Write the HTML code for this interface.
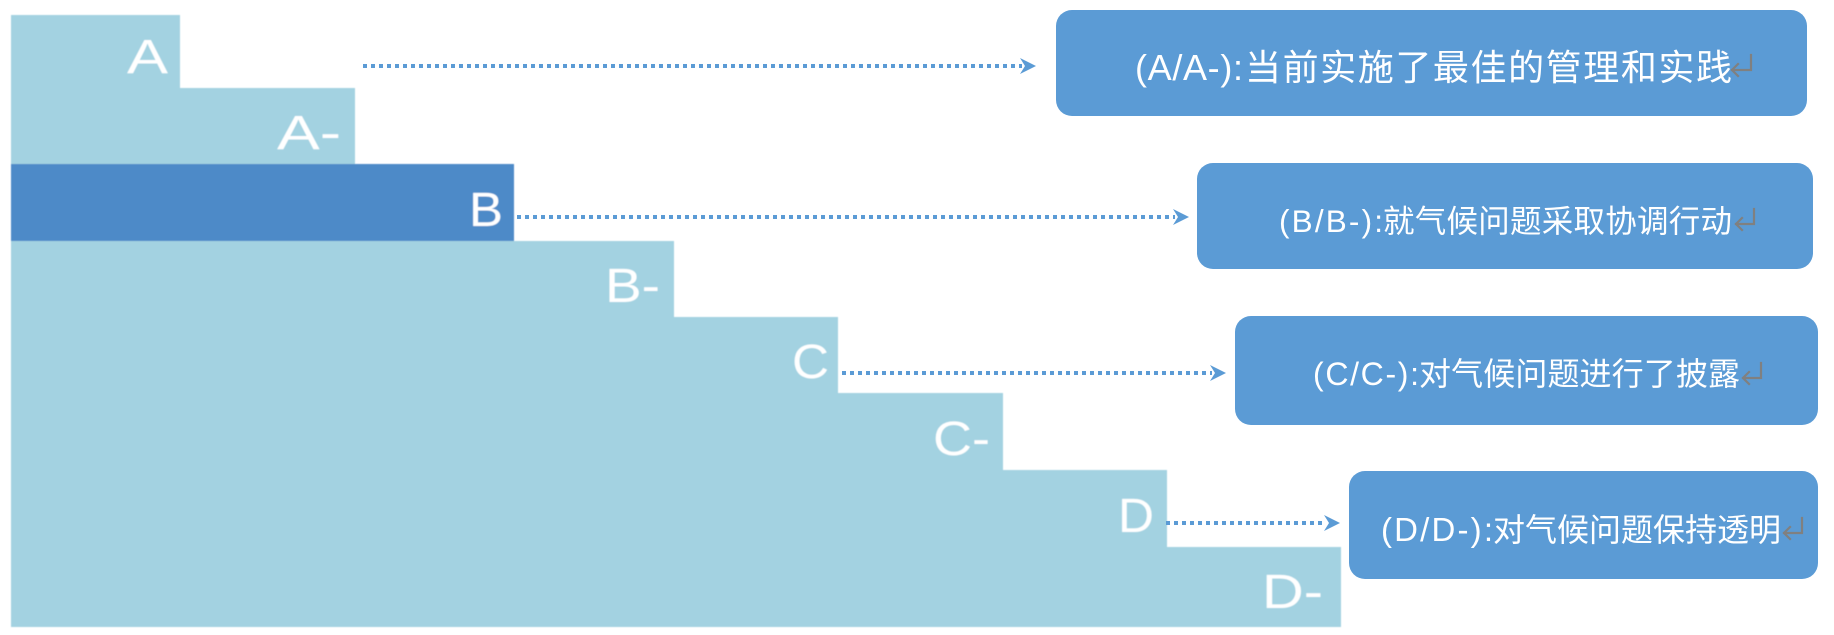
<!DOCTYPE html>
<html>
<head>
<meta charset="utf-8">
<style>
  html, body { margin: 0; padding: 0; background: #ffffff; }
  svg { display: block; }
  .lat { font-family: "Liberation Sans", "Noto Sans CJK SC", sans-serif; fill: #ffffff; }
  .cjk { font-family: "Liberation Sans", "Noto Sans CJK SC", sans-serif; fill: #ffffff; }
  .step { font-family: "Liberation Sans", "DejaVu Sans", sans-serif; fill: #ffffff; font-size: 48px; }
</style>
</head>
<body>
<svg width="1834" height="635" viewBox="0 0 1834 635" xmlns="http://www.w3.org/2000/svg">
  <defs>
    <filter id="soft" x="-2%" y="-2%" width="104%" height="104%">
      <feGaussianBlur stdDeviation="0.6"/>
    </filter>
  </defs>

  <!-- Staircase -->
  <g filter="url(#soft)">
    <polygon fill="#A3D2E1" points="11,15 180,15 180,88 355,88 355,164 514,164 514,241 674,241 674,317 838,317 838,393 1003,393 1003,470 1167,470 1167,547 1341,547 1341,627 11,627"/>
    <rect x="11" y="164" width="503" height="77" fill="#4E8AC8"/>

    <text class="step" x="127" y="73" textLength="41" lengthAdjust="spacingAndGlyphs">A</text>
    <text class="step" x="277" y="149" textLength="64" lengthAdjust="spacingAndGlyphs">A-</text>
    <text class="step" x="469" y="226" textLength="34" lengthAdjust="spacingAndGlyphs">B</text>
    <text class="step" x="605" y="302" textLength="55" lengthAdjust="spacingAndGlyphs">B-</text>
    <text class="step" x="792" y="378" textLength="37" lengthAdjust="spacingAndGlyphs">C</text>
    <text class="step" x="933" y="455" textLength="57" lengthAdjust="spacingAndGlyphs">C-</text>
    <text class="step" x="1118" y="532" textLength="36" lengthAdjust="spacingAndGlyphs">D</text>
    <text class="step" x="1262" y="608" textLength="61" lengthAdjust="spacingAndGlyphs">D-</text>
  </g>

  <!-- Dotted connectors -->
  <g stroke="#5B9BD5" stroke-width="4" stroke-dasharray="4 4" fill="none">
    <line x1="363" y1="66" x2="1022" y2="66"/>
    <line x1="517" y1="217" x2="1175" y2="217"/>
    <line x1="842" y1="373" x2="1212" y2="373"/>
    <line x1="1166" y1="523" x2="1326" y2="523"/>
  </g>
  <g fill="#5B9BD5">
    <polygon points="1020,58 1036,66 1020,74 1025,66"/>
    <polygon points="1173,209 1189,217 1173,225 1178,217"/>
    <polygon points="1210,365 1226,373 1210,381 1215,373"/>
    <polygon points="1324,515 1340,523 1324,531 1329,523"/>
  </g>

  <!-- Boxes -->
  <g fill="#5B9BD5">
    <rect x="1056" y="10" width="751" height="106" rx="16" ry="16"/>
    <rect x="1197" y="163" width="616" height="106" rx="16" ry="16"/>
    <rect x="1235" y="316" width="583" height="109" rx="16" ry="16"/>
    <rect x="1349" y="471" width="469" height="108" rx="16" ry="16"/>
  </g>

  <!-- Box texts -->
  <text class="lat" x="1135" y="80" font-size="36" textLength="108" lengthAdjust="spacing">(A/A-):</text>
  <text class="cjk" x="1245" y="80" font-size="36" textLength="487" lengthAdjust="spacing">当前实施了最佳的管理和实践</text>

  <text class="lat" x="1279" y="232" font-size="31.5" textLength="104" lengthAdjust="spacing">(B/B-):</text>
  <text class="cjk" x="1383" y="232" font-size="31.5" textLength="349" lengthAdjust="spacing">就气候问题采取协调行动</text>

  <text class="lat" x="1313" y="385" font-size="32" textLength="106" lengthAdjust="spacing">(C/C-):</text>
  <text class="cjk" x="1419" y="385" font-size="32" textLength="321" lengthAdjust="spacing">对气候问题进行了披露</text>

  <text class="lat" x="1381" y="541" font-size="33" textLength="112" lengthAdjust="spacing">(D/D-):</text>
  <text class="cjk" x="1493" y="541" font-size="32" textLength="288" lengthAdjust="spacing">对气候问题保持透明</text>

  <!-- return marks -->
  <g stroke="#808080" stroke-width="2.2" fill="none" stroke-linecap="square">
    <path d="M1751,55 V70 H1732 M1738,64 L1732,70 L1738,76"/>
    <path d="M1754,209 V224 H1736 M1742,218 L1736,224 L1742,230"/>
    <path d="M1761,363 V378 H1743 M1749,372 L1743,378 L1749,384"/>
    <path d="M1802,518 V533 H1784 M1790,527 L1784,533 L1790,539"/>
  </g>
</svg>
</body>
</html>
